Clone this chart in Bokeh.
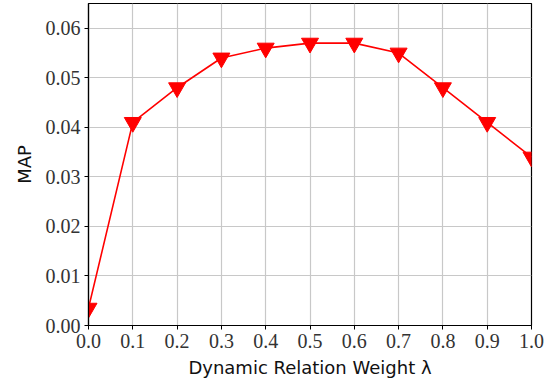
from bokeh.plotting import figure
from bokeh.models import FixedTicker, Range1d, NumeralTickFormatter
from bokeh.embed import file_html
from bokeh.resources import INLINE

lambdas = [0.0, 0.1, 0.2, 0.3, 0.4, 0.5, 0.6, 0.7, 0.8, 0.9, 1.0]
map_vals = [0.0035, 0.041, 0.048, 0.054, 0.056, 0.057, 0.057, 0.055, 0.048, 0.041, 0.034]
x_ticks = [0.0, 0.1, 0.2, 0.3, 0.4, 0.5, 0.6, 0.7, 0.8, 0.9, 1.0]
y_ticks = [0.0, 0.01, 0.02, 0.03, 0.04, 0.05, 0.06]

p = figure(width=557, height=387, output_backend="svg", toolbar_location=None,
           x_range=Range1d(0, 1.0), y_range=Range1d(0, 0.065),
           min_border_left=88, min_border_right=26, min_border_top=3, min_border_bottom=62)

p.line(lambdas, map_vals, line_color="red", line_width=1.6)
p.scatter(lambdas, map_vals, marker="inverted_triangle", size=17,
          fill_color="red", line_color="red")

serif = "Liberation Serif"
sans = "DejaVu Sans"

p.xaxis.ticker = FixedTicker(ticks=x_ticks)
p.yaxis.ticker = FixedTicker(ticks=y_ticks)
p.xaxis.formatter = NumeralTickFormatter(format="0.0")
p.yaxis.formatter = NumeralTickFormatter(format="0.00")

for ax in (p.xaxis, p.yaxis):
    ax.major_label_text_font = serif
    ax.major_label_text_font_size = "20px"
    ax.major_label_text_color = "#333333"
    ax.axis_label_text_font = sans
    ax.axis_label_text_font_size = "18px"
    ax.axis_label_text_font_style = "normal"
    ax.axis_label_text_color = "#111111"
    ax.axis_line_color = "black"
    ax.axis_line_width = 1.2
    ax.major_tick_line_color = "black"
    ax.major_tick_out = 4
    ax.major_tick_in = 0
    ax.minor_tick_line_color = None

p.xaxis.axis_label = "Dynamic Relation Weight λ"
p.yaxis.axis_label = "MAP"
p.xaxis.major_label_standoff = 4
p.yaxis.major_label_standoff = 4
p.xaxis.axis_label_standoff = 6
p.yaxis.axis_label_standoff = 8

p.xgrid.grid_line_color = "#c8c8c8"
p.ygrid.grid_line_color = "#c8c8c8"
p.xgrid.grid_line_width = 1.2
p.ygrid.grid_line_width = 1.2

p.outline_line_color = "black"
p.outline_line_width = 1.2
p.background_fill_color = "white"
p.border_fill_color = "white"

open("out.html", "w").write(file_html(p, INLINE))
